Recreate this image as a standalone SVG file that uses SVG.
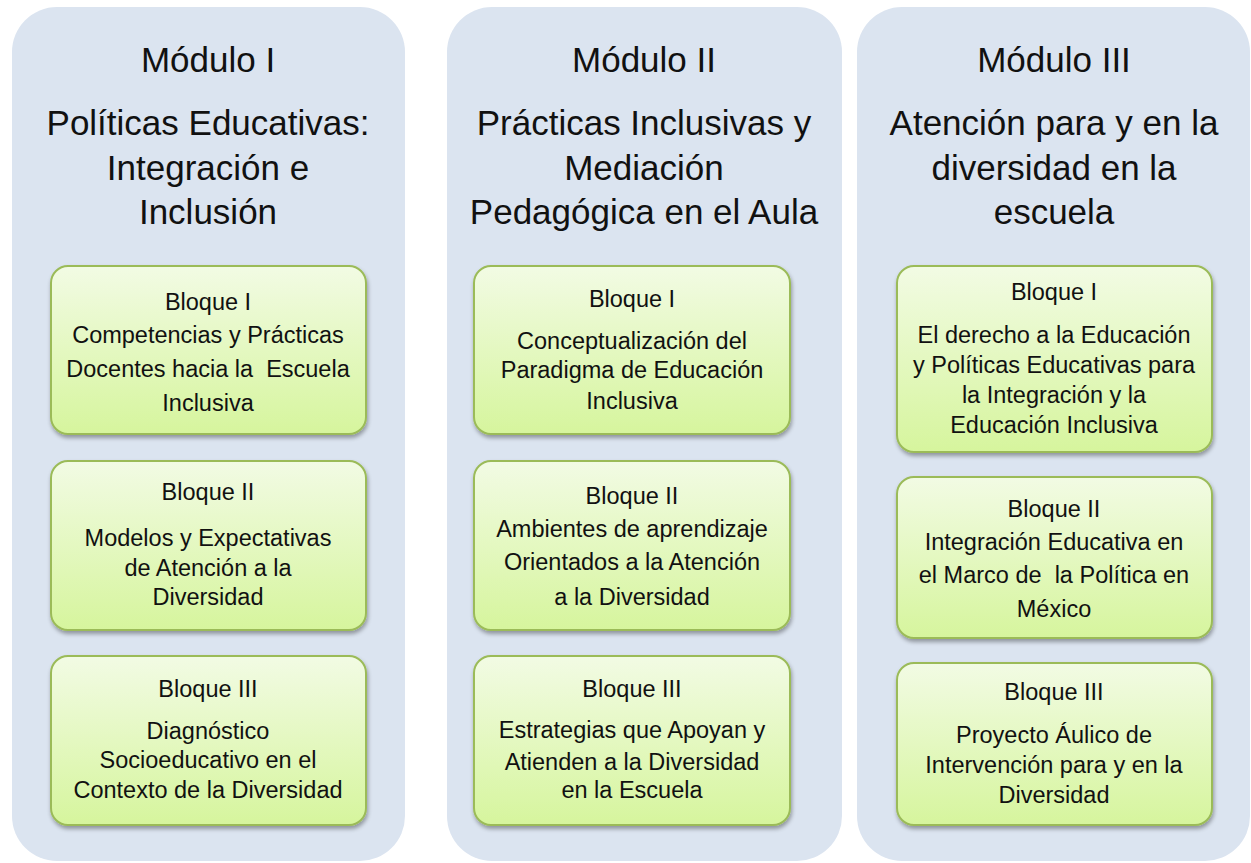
<svg xmlns="http://www.w3.org/2000/svg" width="1251" height="863" viewBox="0 0 1251 863">
<style>
.col{fill:#dbe4f0;}
.box{fill:url(#g);stroke:#9bbb59;stroke-width:2;filter:url(#sh);}
.t{font-family:"Liberation Sans",Arial,sans-serif;font-size:35px;fill:#111;text-anchor:middle;}
.b{font-family:"Liberation Sans",Arial,sans-serif;font-size:23.5px;fill:#111;text-anchor:middle;white-space:pre;}
</style>
<defs>
<linearGradient id="g" x1="0" y1="0" x2="0" y2="1">
<stop offset="0" stop-color="#f2fbe4"/>
<stop offset="1" stop-color="#d6f59d"/>
</linearGradient>
<filter id="sh" x="-10%" y="-10%" width="120%" height="130%">
<feGaussianBlur in="SourceAlpha" stdDeviation="2"/>
<feOffset dx="1" dy="3" result="o"/>
<feComponentTransfer><feFuncA type="linear" slope="0.35"/></feComponentTransfer>
<feMerge><feMergeNode/><feMergeNode in="SourceGraphic"/></feMerge>
</filter>
</defs>
<rect width="1251" height="863" fill="#ffffff"/>
<g id="modulo1">
<rect class="col" x="12" y="7" width="393" height="854" rx="45"/>
<text class="t" x="208" y="72">Módulo I</text>
<text class="t" x="208" y="135">Políticas Educativas:</text>
<text class="t" x="208" y="180">Integración e</text>
<text class="t" x="208" y="224">Inclusión</text>
</g>
<g id="modulo2">
<rect class="col" x="447" y="7" width="395" height="854" rx="45"/>
<text class="t" x="644" y="72">Módulo II</text>
<text class="t" x="644" y="135">Prácticas Inclusivas y</text>
<text class="t" x="644" y="180">Mediación</text>
<text class="t" x="644" y="224">Pedagógica en el Aula</text>
</g>
<g id="modulo3">
<rect class="col" x="857" y="7" width="393" height="854" rx="45"/>
<text class="t" x="1054" y="72">Módulo III</text>
<text class="t" x="1054" y="135">Atención para y en la</text>
<text class="t" x="1054" y="180">diversidad en la</text>
<text class="t" x="1054" y="224">escuela</text>
</g>
<g id="m1b1">
<rect class="box" x="51" y="266" width="315" height="168" rx="17"/>
<text class="b" x="208" y="310">Bloque I</text>
<text class="b" x="208" y="343">Competencias y Prácticas</text>
<text class="b" x="208" y="377" xml:space="preserve">Docentes hacia la  Escuela</text>
<text class="b" x="208" y="411">Inclusiva</text>
</g>
<g id="m1b2">
<rect class="box" x="51" y="461" width="315" height="169" rx="17"/>
<text class="b" x="208" y="500">Bloque II</text>
<text class="b" x="208" y="546">Modelos y Expectativas</text>
<text class="b" x="208" y="576">de Atención a la</text>
<text class="b" x="208" y="605">Diversidad</text>
</g>
<g id="m1b3">
<rect class="box" x="51" y="656" width="315" height="169" rx="17"/>
<text class="b" x="208" y="697">Bloque III</text>
<text class="b" x="208" y="739">Diagnóstico</text>
<text class="b" x="208" y="768">Socioeducativo en el</text>
<text class="b" x="208" y="798">Contexto de la Diversidad</text>
</g>
<g id="m2b1">
<rect class="box" x="474" y="266" width="316" height="168" rx="17"/>
<text class="b" x="632" y="307">Bloque I</text>
<text class="b" x="632" y="349">Conceptualización del</text>
<text class="b" x="632" y="378">Paradigma de Educación</text>
<text class="b" x="632" y="409">Inclusiva</text>
</g>
<g id="m2b2">
<rect class="box" x="474" y="461" width="316" height="169" rx="17"/>
<text class="b" x="632" y="504">Bloque II</text>
<text class="b" x="632" y="537">Ambientes de aprendizaje</text>
<text class="b" x="632" y="570">Orientados a la Atención</text>
<text class="b" x="632" y="605">a la Diversidad</text>
</g>
<g id="m2b3">
<rect class="box" x="474" y="656" width="316" height="169" rx="17"/>
<text class="b" x="632" y="697">Bloque III</text>
<text class="b" x="632" y="738">Estrategias que Apoyan y</text>
<text class="b" x="632" y="770">Atienden a la Diversidad</text>
<text class="b" x="632" y="798">en la Escuela</text>
</g>
<g id="m3b1">
<rect class="box" x="897" y="266" width="315" height="186" rx="17"/>
<text class="b" x="1054" y="300">Bloque I</text>
<text class="b" x="1054" y="343">El derecho a la Educación</text>
<text class="b" x="1054" y="373">y Políticas Educativas para</text>
<text class="b" x="1054" y="403">la Integración y la</text>
<text class="b" x="1054" y="433">Educación Inclusiva</text>
</g>
<g id="m3b2">
<rect class="box" x="897" y="477" width="315" height="161" rx="17"/>
<text class="b" x="1054" y="517">Bloque II</text>
<text class="b" x="1054" y="550">Integración Educativa en</text>
<text class="b" x="1054" y="583" xml:space="preserve">el Marco de  la Política en</text>
<text class="b" x="1054" y="617">México</text>
</g>
<g id="m3b3">
<rect class="box" x="897" y="663" width="315" height="162" rx="17"/>
<text class="b" x="1054" y="700">Bloque III</text>
<text class="b" x="1054" y="743">Proyecto Áulico de</text>
<text class="b" x="1054" y="773">Intervención para y en la</text>
<text class="b" x="1054" y="803">Diversidad</text>
</g>
<g id="connectors"></g>
</svg>
